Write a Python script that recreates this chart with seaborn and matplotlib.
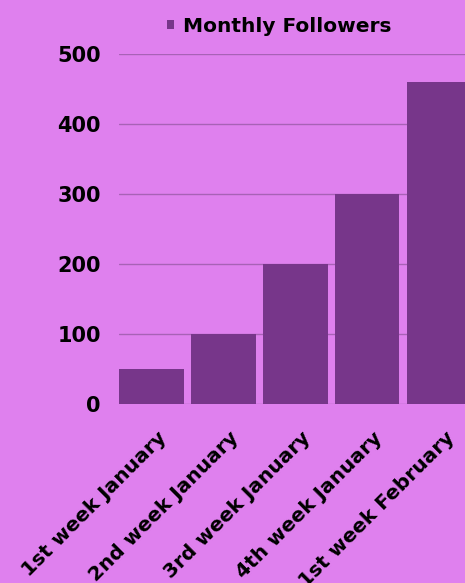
import matplotlib
matplotlib.use("Agg")
import matplotlib.pyplot as plt
import matplotlib.transforms as mtransforms
import seaborn as sns
import pandas as pd
from matplotlib.patches import Patch

categories = ["1st week January", "2nd week January", "3rd week January",
              "4th week January", "1st week February"]
followers = [50, 100, 200, 300, 460]
yticks = [0, 100, 200, 300, 400, 500]

BG = "#DF80EE"
BAR = "#77368A"
GRID = "#A862B6"

sns.set_theme(style="white")
plt.rcParams['font.family'] = ['DejaVu Sans']

df = pd.DataFrame({"week": categories, "followers": followers})

fig = plt.figure(figsize=(4.65, 5.83), dpi=100, facecolor=BG)
ax = fig.add_axes([119/465, (583-404)/583, 356/465, 350/583])
ax.set_facecolor(BG)

sns.barplot(data=df, x="week", y="followers", color=BAR, width=0.9,
            saturation=1, ax=ax, zorder=3, linewidth=0, edgecolor='none')

ax.set_ylim(0, 500)
ax.set_xlim(-0.45, 4.5)
ax.set_yticks(yticks)
ax.set_yticklabels([str(v) for v in yticks], fontsize=15, fontweight='bold', color='black')
ax.tick_params(axis='y', length=0, pad=13)
ax.tick_params(axis='x', length=0, pad=6)
offset = mtransforms.ScaledTranslation(6/100, -16/100, fig.dpi_scale_trans)
for lbl in ax.get_xticklabels():
    lbl.set_rotation(45)
    lbl.set_ha('right')
    lbl.set_rotation_mode('anchor')
    lbl.set_fontsize(14.5)
    lbl.set_fontweight('bold')
    lbl.set_color('black')
    lbl.set_transform(lbl.get_transform() + offset)
ax.set_xlabel("")
ax.set_ylabel("")
ax.yaxis.grid(True, color=GRID, linewidth=1.0, zorder=0)
for s in ax.spines.values():
    s.set_visible(False)

handles = [Patch(facecolor=BAR, edgecolor='none', label="Monthly Followers")]
leg = fig.legend(handles=handles, loc='center', bbox_to_anchor=(279/465, 1 - 26/583),
                 frameon=False, handlelength=0.35, handleheight=0.35, handletextpad=0.45,
                 labelcolor='black',
                 prop={'family': 'DejaVu Sans', 'weight': 'bold', 'size': 14.5})

fig.savefig("out.png", dpi=100, facecolor=BG)
